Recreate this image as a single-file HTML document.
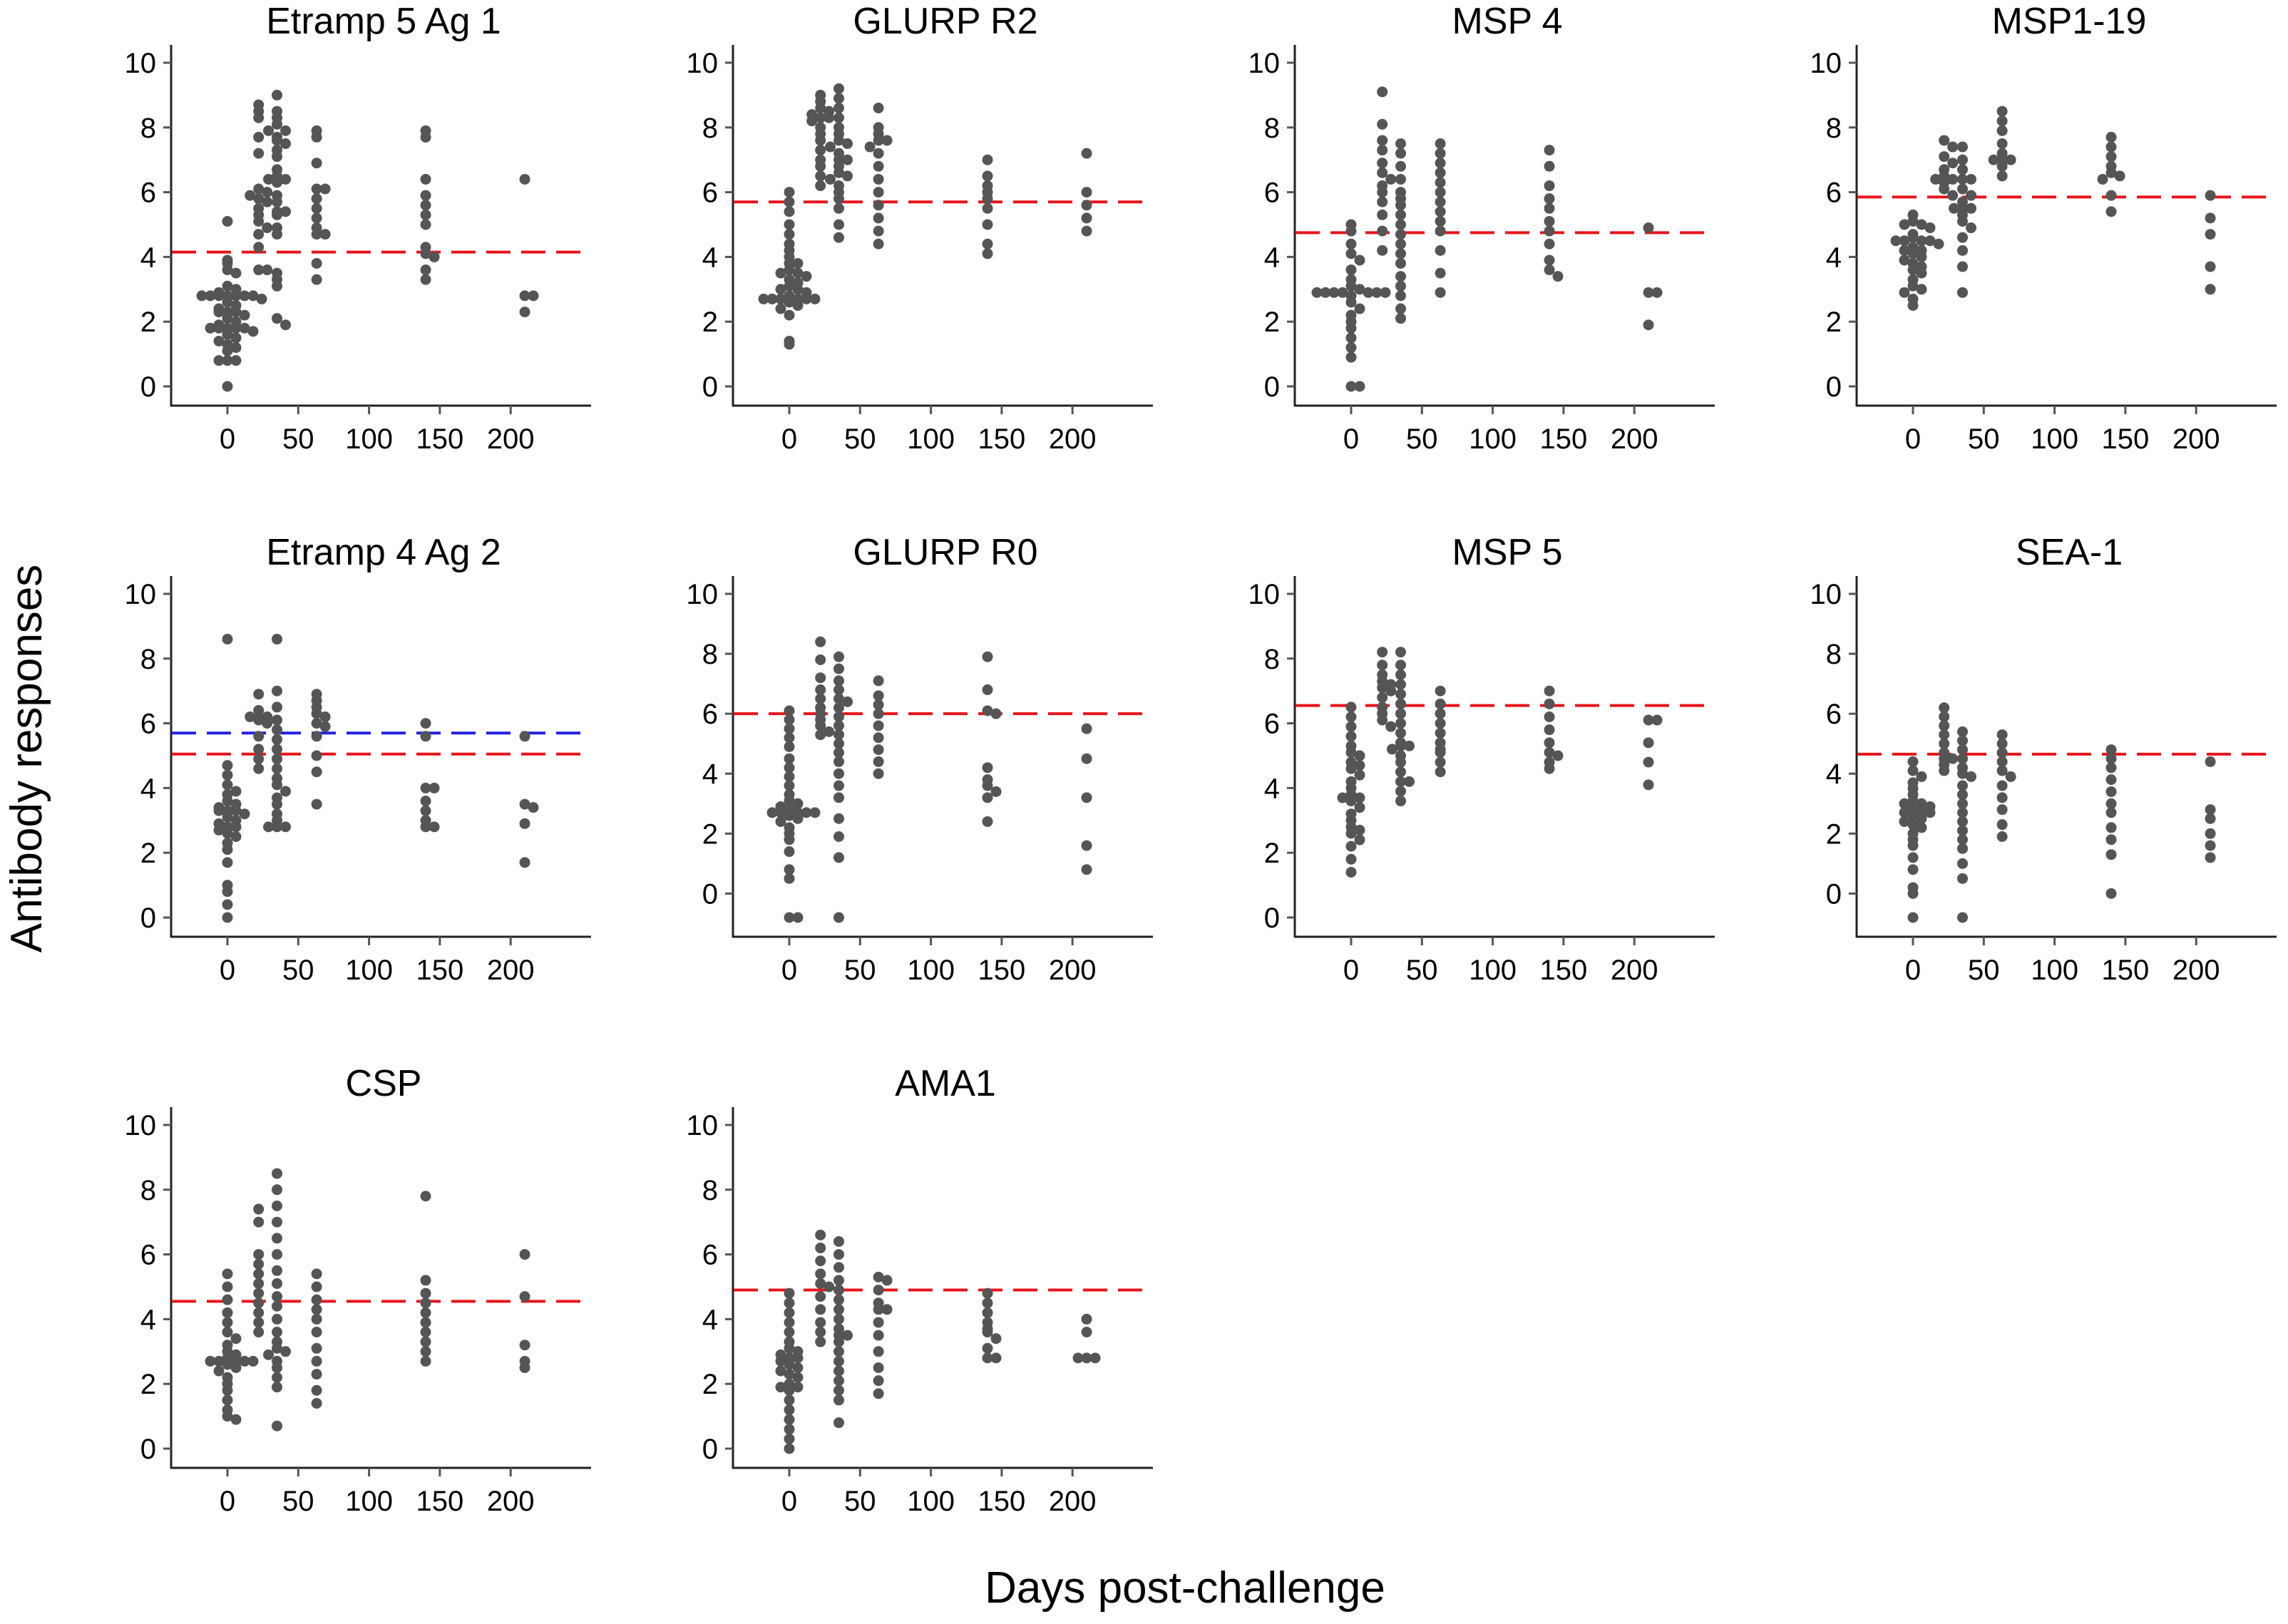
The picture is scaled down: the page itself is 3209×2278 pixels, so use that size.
<!DOCTYPE html>
<html><head><meta charset="utf-8"><style>html,body{margin:0;padding:0;background:#fff}svg{display:block}text{font-family:"Liberation Sans",sans-serif}</style></head>
<body>
<svg id="chart" width="3209" height="2278" xmlns="http://www.w3.org/2000/svg">
<text x="0" y="0" transform="translate(58,1064) rotate(-90)" text-anchor="middle" font-size="62" fill="#000">Antibody responses</text>
<text x="1662" y="2248" text-anchor="middle" font-size="62" fill="#000">Days post-challenge</text>
</svg>
<script>
const days = [0, 22, 35, 63, 140, 210];
const xTicks = [0, 50, 100, 150, 200];
const yTicks = [0, 2, 4, 6, 8, 10];
const titles = ["Etramp 5 Ag 1","GLURP R2","MSP 4","MSP1-19","Etramp 4 Ag 2","GLURP R0","MSP 5","SEA-1","CSP","AMA1"];
const thresholds = [4.15, 5.7, 4.75, 5.85, 5.05, 6.0, 6.55, 4.65, 4.55, 4.9];
const blueThresholds = [null, null, null, null, 5.7, null, null, null, null, null];
const yMins = [0, 0, 0, 0, 0, -0.8, 0, -0.8, 0, 0];
const values = [
 [[5.1,3.9,3.8,3.6,3.5,3.1,3.0,2.9,2.8,2.8,2.8,2.8,2.8,2.8,2.8,2.7,2.6,2.5,2.4,2.3,2.3,2.3,2.2,2.1,2.0,1.9,1.8,1.8,1.8,1.8,1.8,1.7,1.6,1.5,1.4,1.3,1.2,1.1,0.8,0.8,0.8,0.0],
  [8.7,8.5,8.3,7.7,7.2,6.1,6.0,5.9,5.8,5.7,5.5,5.3,5.1,4.9,4.7,4.3,3.6,3.6],
  [9.0,8.5,8.3,8.1,7.9,7.9,7.7,7.6,7.5,7.3,7.1,6.7,6.5,6.4,6.4,6.3,5.9,5.7,5.4,5.4,5.3,4.9,4.7,3.5,3.3,3.1,2.1,1.9],
  [7.9,7.7,6.9,6.1,6.1,5.8,5.5,5.2,4.9,4.7,4.7,3.8,3.3],
  [7.9,7.7,6.4,5.9,5.6,5.3,5.0,4.3,4.1,4.0,3.6,3.3],
  [6.4,2.8,2.8,2.3]],
 [[6.0,5.7,5.4,5.0,4.7,4.4,4.2,4.0,3.8,3.8,3.6,3.5,3.5,3.4,3.3,3.2,3.1,3.0,3.0,2.9,2.8,2.7,2.7,2.7,2.7,2.7,2.7,2.6,2.5,2.4,2.2,1.4,1.3],
  [9.0,8.8,8.6,8.5,8.4,8.3,8.3,8.2,8.0,7.8,7.6,7.3,7.0,6.8,6.5,6.2],
  [9.2,8.9,8.6,8.3,8.0,7.8,7.6,7.5,7.4,7.2,7.0,7.0,6.8,6.6,6.5,6.4,6.2,6.0,5.8,5.5,5.0,4.6],
  [8.6,8.0,7.8,7.6,7.6,7.4,7.2,6.8,6.4,6.0,5.6,5.2,4.8,4.4],
  [7.0,6.5,6.2,6.0,5.8,5.5,5.0,4.4,4.1],
  [7.2,6.0,5.6,5.2,4.8]],
 [[5.0,4.8,4.4,4.1,3.9,3.6,3.3,3.1,3.0,2.9,2.9,2.9,2.9,2.9,2.9,2.9,2.8,2.6,2.4,2.2,2.0,1.8,1.5,1.2,0.9,0.0,0.0],
  [9.1,8.1,7.6,7.3,6.9,6.6,6.4,6.2,6.0,5.7,5.3,4.8,4.2],
  [7.5,7.2,6.8,6.4,6.0,5.8,5.6,5.3,5.0,4.7,4.4,4.1,3.8,3.4,3.1,2.8,2.4,2.1],
  [7.5,7.2,6.9,6.6,6.3,6.0,5.7,5.4,5.1,4.8,4.2,3.5,2.9],
  [7.3,6.8,6.2,5.8,5.5,5.1,4.8,4.4,3.9,3.6,3.4],
  [4.9,2.9,2.9,1.9]],
 [[5.3,5.1,5.0,5.0,4.9,4.7,4.6,4.5,4.5,4.5,4.5,4.4,4.3,4.2,4.2,4.1,4.0,3.9,3.8,3.7,3.6,3.5,3.3,3.1,3.0,2.9,2.7,2.5],
  [7.6,7.4,7.1,6.9,6.7,6.5,6.4,6.4,6.3,6.1,5.9],
  [7.4,7.0,6.7,6.4,6.4,6.1,5.9,5.7,5.5,5.5,5.5,5.3,5.1,4.9,4.6,4.2,3.7,2.9],
  [8.5,8.2,7.9,7.5,7.2,7.0,7.0,7.0,6.8,6.5],
  [7.7,7.4,7.1,6.8,6.6,6.5,6.4,5.9,5.4],
  [5.9,5.2,4.7,3.7,3.0]],
 [[8.6,4.7,4.4,4.1,3.9,3.8,3.6,3.5,3.4,3.3,3.3,3.3,3.2,3.1,3.0,2.9,2.8,2.8,2.7,2.6,2.5,2.3,2.1,1.7,1.0,0.8,0.4,0.0],
  [6.9,6.4,6.2,6.2,6.2,6.1,6.0,5.6,5.2,4.9,4.6],
  [8.6,7.0,6.5,6.1,5.8,5.5,5.2,4.9,4.6,4.3,4.1,3.9,3.7,3.5,3.2,3.0,2.8,2.8,2.8],
  [6.9,6.7,6.5,6.3,6.2,6.0,5.9,5.6,5.0,4.5,3.5],
  [6.0,5.6,4.0,4.0,3.6,3.3,3.0,2.8,2.8],
  [5.6,3.5,3.4,2.9,1.7]],
 [[6.1,5.8,5.5,5.2,4.9,4.5,4.2,3.9,3.6,3.3,3.1,3.0,2.9,2.8,2.7,2.7,2.7,2.7,2.7,2.6,2.5,2.4,2.2,2.0,1.8,1.4,0.8,0.5,-0.8,-0.8],
  [8.4,7.8,7.2,6.8,6.5,6.2,6.0,5.8,5.6,5.4,5.3],
  [7.9,7.5,7.1,6.8,6.5,6.4,6.2,5.9,5.6,5.3,5.0,4.7,4.4,4.0,3.6,3.2,2.5,1.9,1.2,-0.8],
  [7.1,6.6,6.3,6.0,5.6,5.2,4.8,4.4,4.0],
  [7.9,6.8,6.1,6.0,4.2,3.8,3.6,3.4,3.2,2.4],
  [5.5,4.5,3.2,1.6,0.8]],
 [[6.5,6.2,5.9,5.6,5.3,5.1,5.0,4.8,4.7,4.6,4.4,4.2,4.0,3.8,3.7,3.7,3.6,3.4,3.2,3.0,2.8,2.7,2.6,2.4,2.2,1.8,1.4],
  [8.2,7.8,7.5,7.3,7.2,7.1,7.0,6.8,6.5,6.3,6.1,5.9],
  [8.2,7.8,7.5,7.2,6.9,6.6,6.3,6.0,5.7,5.4,5.3,5.3,5.2,5.0,4.8,4.5,4.2,4.2,3.9,3.6],
  [7.0,6.6,6.3,6.0,5.7,5.4,5.2,5.1,4.8,4.5],
  [7.0,6.6,6.2,5.8,5.4,5.1,5.0,4.8,4.6],
  [6.1,6.1,5.4,4.8,4.1]],
 [[4.4,4.1,3.9,3.7,3.5,3.3,3.1,3.0,3.0,2.9,2.8,2.7,2.7,2.7,2.6,2.5,2.4,2.3,2.2,2.0,1.8,1.6,1.2,0.8,0.2,0.0,-0.8],
  [6.2,5.9,5.6,5.3,5.0,4.7,4.5,4.5,4.3,4.1],
  [5.4,5.1,4.8,4.5,4.2,4.0,3.9,3.6,3.3,3.0,2.7,2.4,2.1,1.8,1.5,1.0,0.5,-0.8],
  [5.3,5.0,4.7,4.4,4.1,3.9,3.6,3.2,2.8,2.3,1.9],
  [4.8,4.5,4.2,3.8,3.4,3.0,2.7,2.2,1.8,1.3,0.0],
  [4.4,2.8,2.5,2.0,1.6,1.2]],
 [[5.4,5.0,4.6,4.2,3.9,3.6,3.4,3.2,3.0,2.9,2.8,2.7,2.7,2.7,2.7,2.7,2.6,2.5,2.4,2.2,2.0,1.8,1.5,1.2,1.0,0.9],
  [7.4,7.0,6.0,5.7,5.4,5.1,4.8,4.5,4.2,3.9,3.6],
  [8.5,8.0,7.5,7.0,6.5,6.0,5.5,5.1,4.7,4.4,4.0,3.6,3.3,3.1,3.0,2.9,2.7,2.5,2.2,1.9,0.7],
  [5.4,5.0,4.6,4.3,4.0,3.6,3.1,2.7,2.3,1.8,1.4],
  [7.8,5.2,4.8,4.5,4.2,3.9,3.6,3.3,3.0,2.7],
  [6.0,4.7,3.2,2.7,2.5]],
 [[4.8,4.5,4.2,3.9,3.6,3.3,3.1,3.0,2.9,2.8,2.8,2.7,2.6,2.5,2.4,2.3,2.2,2.0,1.9,1.9,1.8,1.5,1.2,0.9,0.6,0.3,0.0],
  [6.6,6.2,5.8,5.4,5.1,5.0,4.7,4.3,3.9,3.6,3.3],
  [6.4,6.0,5.6,5.2,4.9,4.6,4.3,4.0,3.7,3.5,3.5,3.3,3.0,2.7,2.4,2.1,1.8,1.5,0.8],
  [5.3,5.2,4.9,4.5,4.3,4.3,3.9,3.5,3.0,2.5,2.1,1.7],
  [4.8,4.5,4.2,3.9,3.7,3.6,3.4,3.1,2.8,2.8],
  [4.0,3.6,2.8,2.8,2.8]]
];
const NS = "http://www.w3.org/2000/svg";
const svg = document.getElementById("chart");
function mk(tag, attrs, parent) {
  const e = document.createElementNS(NS, tag);
  for (const k in attrs) e.setAttribute(k, attrs[k]);
  parent.appendChild(e);
  return e;
}
titles.forEach((title, i) => {
  const col = i % 4, row = Math.floor(i / 4);
  const ox = col * 788, oy = row * 745;
  const g = mk("g", {transform: `translate(${ox},${oy})`}, svg);
  
  
  const ymin = yMins[i];
  const xS = d => 319 + d * 1.986;
  const yS = v => 542 - (v - ymin) / (10 - ymin) * 454;
  const t = mk("text", {x: 538, y: 47, "text-anchor": "middle", "font-size": 52, fill: "#000"}, g);
  t.textContent = title;
  
  
  const ya = mk("line", {x1: 240, y1: 63, x2: 240, y2: 570, stroke: "#222", "stroke-width": 3}, g);
  
  
  const xa = mk("line", {x1: 239, y1: 569, x2: 829, y2: 569, stroke: "#222", "stroke-width": 3}, g);
  
  
  yTicks.forEach(v => {
    const y = yS(v);
    const tk = mk("line", {x1: 229, y1: y, x2: 240, y2: y, stroke: "#555", "stroke-width": 3}, g);
    
    
    const lb = mk("text", {x: 219, y: y + 14, "text-anchor": "end", "font-size": 40, fill: "#000"}, g);
    lb.textContent = v;
    
    
  });
  xTicks.forEach(d => {
    const x = xS(d);
    const tk = mk("line", {x1: x, y1: 569, x2: x, y2: 581, stroke: "#555", "stroke-width": 3}, g);
    
    
    const lb = mk("text", {x: x, y: 629, "text-anchor": "middle", "font-size": 40, fill: "#000"}, g);
    lb.textContent = d;
    
    
  });
  const th = mk("line", {x1: 241, y1: yS(thresholds[i]), x2: 829, y2: yS(thresholds[i]), stroke: "#e8141b", "stroke-width": 4, "stroke-dasharray": "34 15"}, g);
  
  
  if (blueThresholds[i] !== null) {
    const bt = mk("line", {x1: 241, y1: yS(blueThresholds[i]), x2: 829, y2: yS(blueThresholds[i]), stroke: "#2222dd", "stroke-width": 4, "stroke-dasharray": "34 15"}, g);
    
    
  }
  values[i].forEach((grp, gi) => {
    const counts = {};
    grp.forEach(v => {
      const bin = Math.round(v / 0.25);
      const k = counts[bin] || 0;
      counts[bin] = k + 1;
      const off = Math.ceil(k / 2) * (k % 2 ? 1 : -1) * 12;
      const c = mk("circle", {cx: xS(days[gi]) + off, cy: yS(v), r: 7.5, fill: "#555"}, g);
      
      
    });
  });
});
</script>
</body></html>
